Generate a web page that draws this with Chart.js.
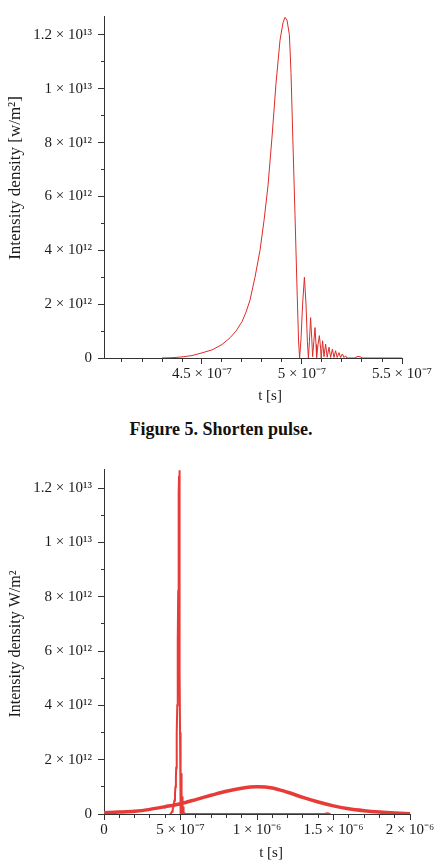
<!DOCTYPE html>
<html>
<head>
<meta charset="utf-8">
<script src="https://cdn.jsdelivr.net/npm/chart.js@4.4.1/dist/chart.umd.min.js"></script>
<style>
html,body{margin:0;padding:0;background:#fff;width:442px;height:864px;overflow:hidden;position:relative;}
#c1{position:absolute;left:0;top:0;}
#c2{position:absolute;left:0;top:450px;}
#cap{position:absolute;left:0;width:442px;top:419px;line-height:20px;text-align:center;font-weight:bold;font-size:18px;font-family:'Liberation Serif','Times New Roman',serif;color:#111;}
</style>
</head>
<body>
<canvas id="c1" width="442" height="410"></canvas>
<div id="cap">Figure 5. Shorten pulse.</div>
<canvas id="c2" width="442" height="414"></canvas>
<script>
// ---- data ----
// shortened pulse: time in ns, intensity in 1e12 W/m^2
const pulseT_ns = [430, 435, 440, 445, 449, 455, 460, 464, 467, 470, 472, 474, 476.5, 479, 481, 483, 485, 487, 489, 490.5, 491.5, 492.5, 493.7, 494.5, 495.5, 496.5, 497.5, 498.3, 498.8,
  499.5, 500.3, 501.2, 502.0, 502.7, 503.2,
  503.7, 504.3, 504.9, 505.3,
  505.9, 506.5, 507.0, 507.3,
  508.0, 508.7, 509.3, 509.6,
  510.3, 511.0, 511.8, 512.6, 513.5, 514.3, 515.2, 516.0, 516.8, 517.6, 518.5, 519.3, 520.2, 521.0, 521.8, 522.5,
  526.5, 527.5, 529, 530, 1440, 1460, 1480];
const pulseI = [0, 0.01, 0.04, 0.09, 0.17, 0.3, 0.5, 0.75, 1.0, 1.35, 1.7, 2.15, 3.0, 4.0, 5.1, 6.4, 8.2, 10.2, 11.8, 12.45, 12.65, 12.55, 12.0, 10.6, 7.9, 5.3, 2.6, 0.6, 0,
  0.7, 2.0, 3.0, 2.0, 0.6, 0,
  0.6, 1.5, 0.7, 0.05,
  0.6, 1.13, 0.5, 0.02,
  0.5, 0.83, 0.35, 0,
  0.64, 0.05, 0.52, 0.03, 0.4, 0.02, 0.33, 0.02, 0.27, 0.02, 0.2, 0.02, 0.15, 0.02, 0.08, 0,
  0, 0.05, 0.05, 0, 0, 0.03, 0];
// broad input pulse: time in microseconds, intensity in 1e12 W/m^2
const gaussT_us = [0, 0.1, 0.2, 0.3, 0.4, 0.5, 0.6, 0.7, 0.8, 0.9, 1.0, 1.1, 1.2, 1.3, 1.4, 1.5, 1.6, 1.7, 1.8, 1.9, 2.0];
const gaussI = [0.05, 0.07, 0.10, 0.17, 0.27, 0.38, 0.53, 0.69, 0.84, 0.95, 1.00, 0.96, 0.80, 0.61, 0.44, 0.30, 0.19, 0.12, 0.07, 0.035, 0.01];

// ---- ticks ----
const yTickValues = [0, 1e12, 2e12, 3e12, 4e12, 5e12, 6e12, 7e12, 8e12, 9e12, 10e12, 11e12, 12e12];
const yTickLabels = ['0', '', '2 × 10¹²', '', '4 × 10¹²', '', '6 × 10¹²', '', '8 × 10¹²', '', '1 × 10¹³', '', '1.2 × 10¹³'];
const topXTickValues = [4.1e-7, 4.2e-7, 4.3e-7, 4.4e-7, 4.5e-7, 4.6e-7, 4.7e-7, 4.8e-7, 4.9e-7, 5.0e-7, 5.1e-7, 5.2e-7, 5.3e-7, 5.4e-7, 5.5e-7];
const topXTickLabels = ['', '', '', '', '4.5 × 10⁻⁷', '', '', '', '', '5 × 10⁻⁷', '', '', '', '', '5.5 × 10⁻⁷'];
const botXTickValues = [0, 1e-7, 2e-7, 3e-7, 4e-7, 5e-7, 6e-7, 7e-7, 8e-7, 9e-7, 1.0e-6, 1.1e-6, 1.2e-6, 1.3e-6, 1.4e-6, 1.5e-6, 1.6e-6, 1.7e-6, 1.8e-6, 1.9e-6, 2.0e-6];
const botXTickLabels = ['0', '', '', '', '', '5 × 10⁻⁷', '', '', '', '', '1 × 10⁻⁶', '', '', '', '', '1.5 × 10⁻⁶', '', '', '', '', '2 × 10⁻⁶'];

const FONT = "'Liberation Serif', 'Times New Roman', serif";
const AXIS = '#333';
const TEXT = '#1a1a1a';

const pulsePoints = pulseT_ns.map((t, i) => ({x: t * 1e-9, y: pulseI[i] * 1e12}));
const gaussPoints = gaussT_us.map((t, i) => ({x: t * 1e-6, y: gaussI[i] * 1e12}));

function makeTicks(values, labels) {
  return values.map((v, i) => ({value: v, lbl: labels[i], isMajor: labels[i] !== ''}));
}

function axis(values, labels, isY, extra) {
  return Object.assign({
    type: 'linear',
    grid: {
      display: true, drawOnChartArea: false, drawTicks: true,
      tickLength: 6, tickColor: AXIS, tickWidth: 1,
      tickBorderDash: (ctx) => (ctx.tick && ctx.tick.isMajor) ? [] : (isY ? [0, 3, 3, 0] : [3, 20])
    },
    border: {display: true, color: AXIS, width: 1},
    ticks: {
      autoSkip: false, maxRotation: 0, minRotation: 0, color: TEXT,
      font: {family: FONT, size: 15}, padding: isY ? 6 : 1,
      callback: (v, i, t) => (t[i] && t[i].lbl !== undefined) ? t[i].lbl : ''
    },
    afterBuildTicks: (s) => { s.ticks = makeTicks(values, labels); }
  }, extra);
}

const axisTitlePlugin = {
  id: 'axisTitles',
  afterDraw(chart, args, o) {
    const ctx = chart.ctx;
    ctx.save();
    ctx.fillStyle = TEXT;
    ctx.textAlign = 'center';
    ctx.textBaseline = 'middle';
    ctx.font = o.xSize + 'px ' + FONT;
    ctx.fillText(o.xText, o.xX, o.xY);
    ctx.translate(o.yX, o.yY);
    ctx.rotate(-Math.PI / 2);
    ctx.font = o.ySize + 'px ' + FONT;
    ctx.fillText(o.yText, 0, 0);
    ctx.restore();
  }
};

const common = {
  responsive: false, animation: false, events: [],
  elements: {point: {radius: 0}, line: {tension: 0}},
};

// ---- top chart: shortened pulse ----
new Chart(document.getElementById('c1'), {
  type: 'line',
  data: {datasets: [{data: pulsePoints, borderColor: '#dd2c28', borderWidth: 1, fill: false, pointRadius: 0}]},
  plugins: [axisTitlePlugin],
  options: Object.assign({}, common, {
    layout: {padding: {left: 0, right: 40, top: 16, bottom: 0}},
    scales: {
      x: axis(topXTickValues, topXTickLabels, false, {min: 4.01e-7, max: 5.5e-7, z: 1, afterFit: (s) => { s.height = 52; }}),
      y: axis(yTickValues, yTickLabels, true, {min: 0, max: 12.7e12, afterFit: (s) => { s.width = 104; }})
    },
    plugins: {
      legend: {display: false}, tooltip: {enabled: false},
      axisTitles: {xText: 't [s]', xX: 270, xY: 396, xSize: 15, yText: 'Intensity density [w/m²]', yX: 16, yY: 178, ySize: 17}
    }
  })
});

// ---- bottom chart: input pulse and shortened pulse ----
new Chart(document.getElementById('c2'), {
  type: 'line',
  data: {datasets: [
    {data: gaussPoints, borderColor: '#e63b36', borderWidth: 3.5, fill: false, pointRadius: 0, cubicInterpolationMode: 'monotone'},
    {data: pulsePoints, borderColor: '#e63b36', borderWidth: 2, fill: false, pointRadius: 0}
  ]},
  plugins: [axisTitlePlugin],
  options: Object.assign({}, common, {
    layout: {padding: {left: 0, right: 32, top: 19, bottom: 0}},
    scales: {
      x: axis(botXTickValues, botXTickLabels, false, {min: 0, max: 2e-6, afterFit: (s) => { s.height = 50; }}),
      y: axis(yTickValues, yTickLabels, true, {min: 0, max: 12.7e12, afterFit: (s) => { s.width = 104; }})
    },
    plugins: {
      legend: {display: false}, tooltip: {enabled: false},
      axisTitles: {xText: 't [s]', xX: 271, xY: 403, xSize: 15, yText: 'Intensity density W/m²', yX: 16, yY: 194, ySize: 16}
    }
  })
});
</script>
</body>
</html>
